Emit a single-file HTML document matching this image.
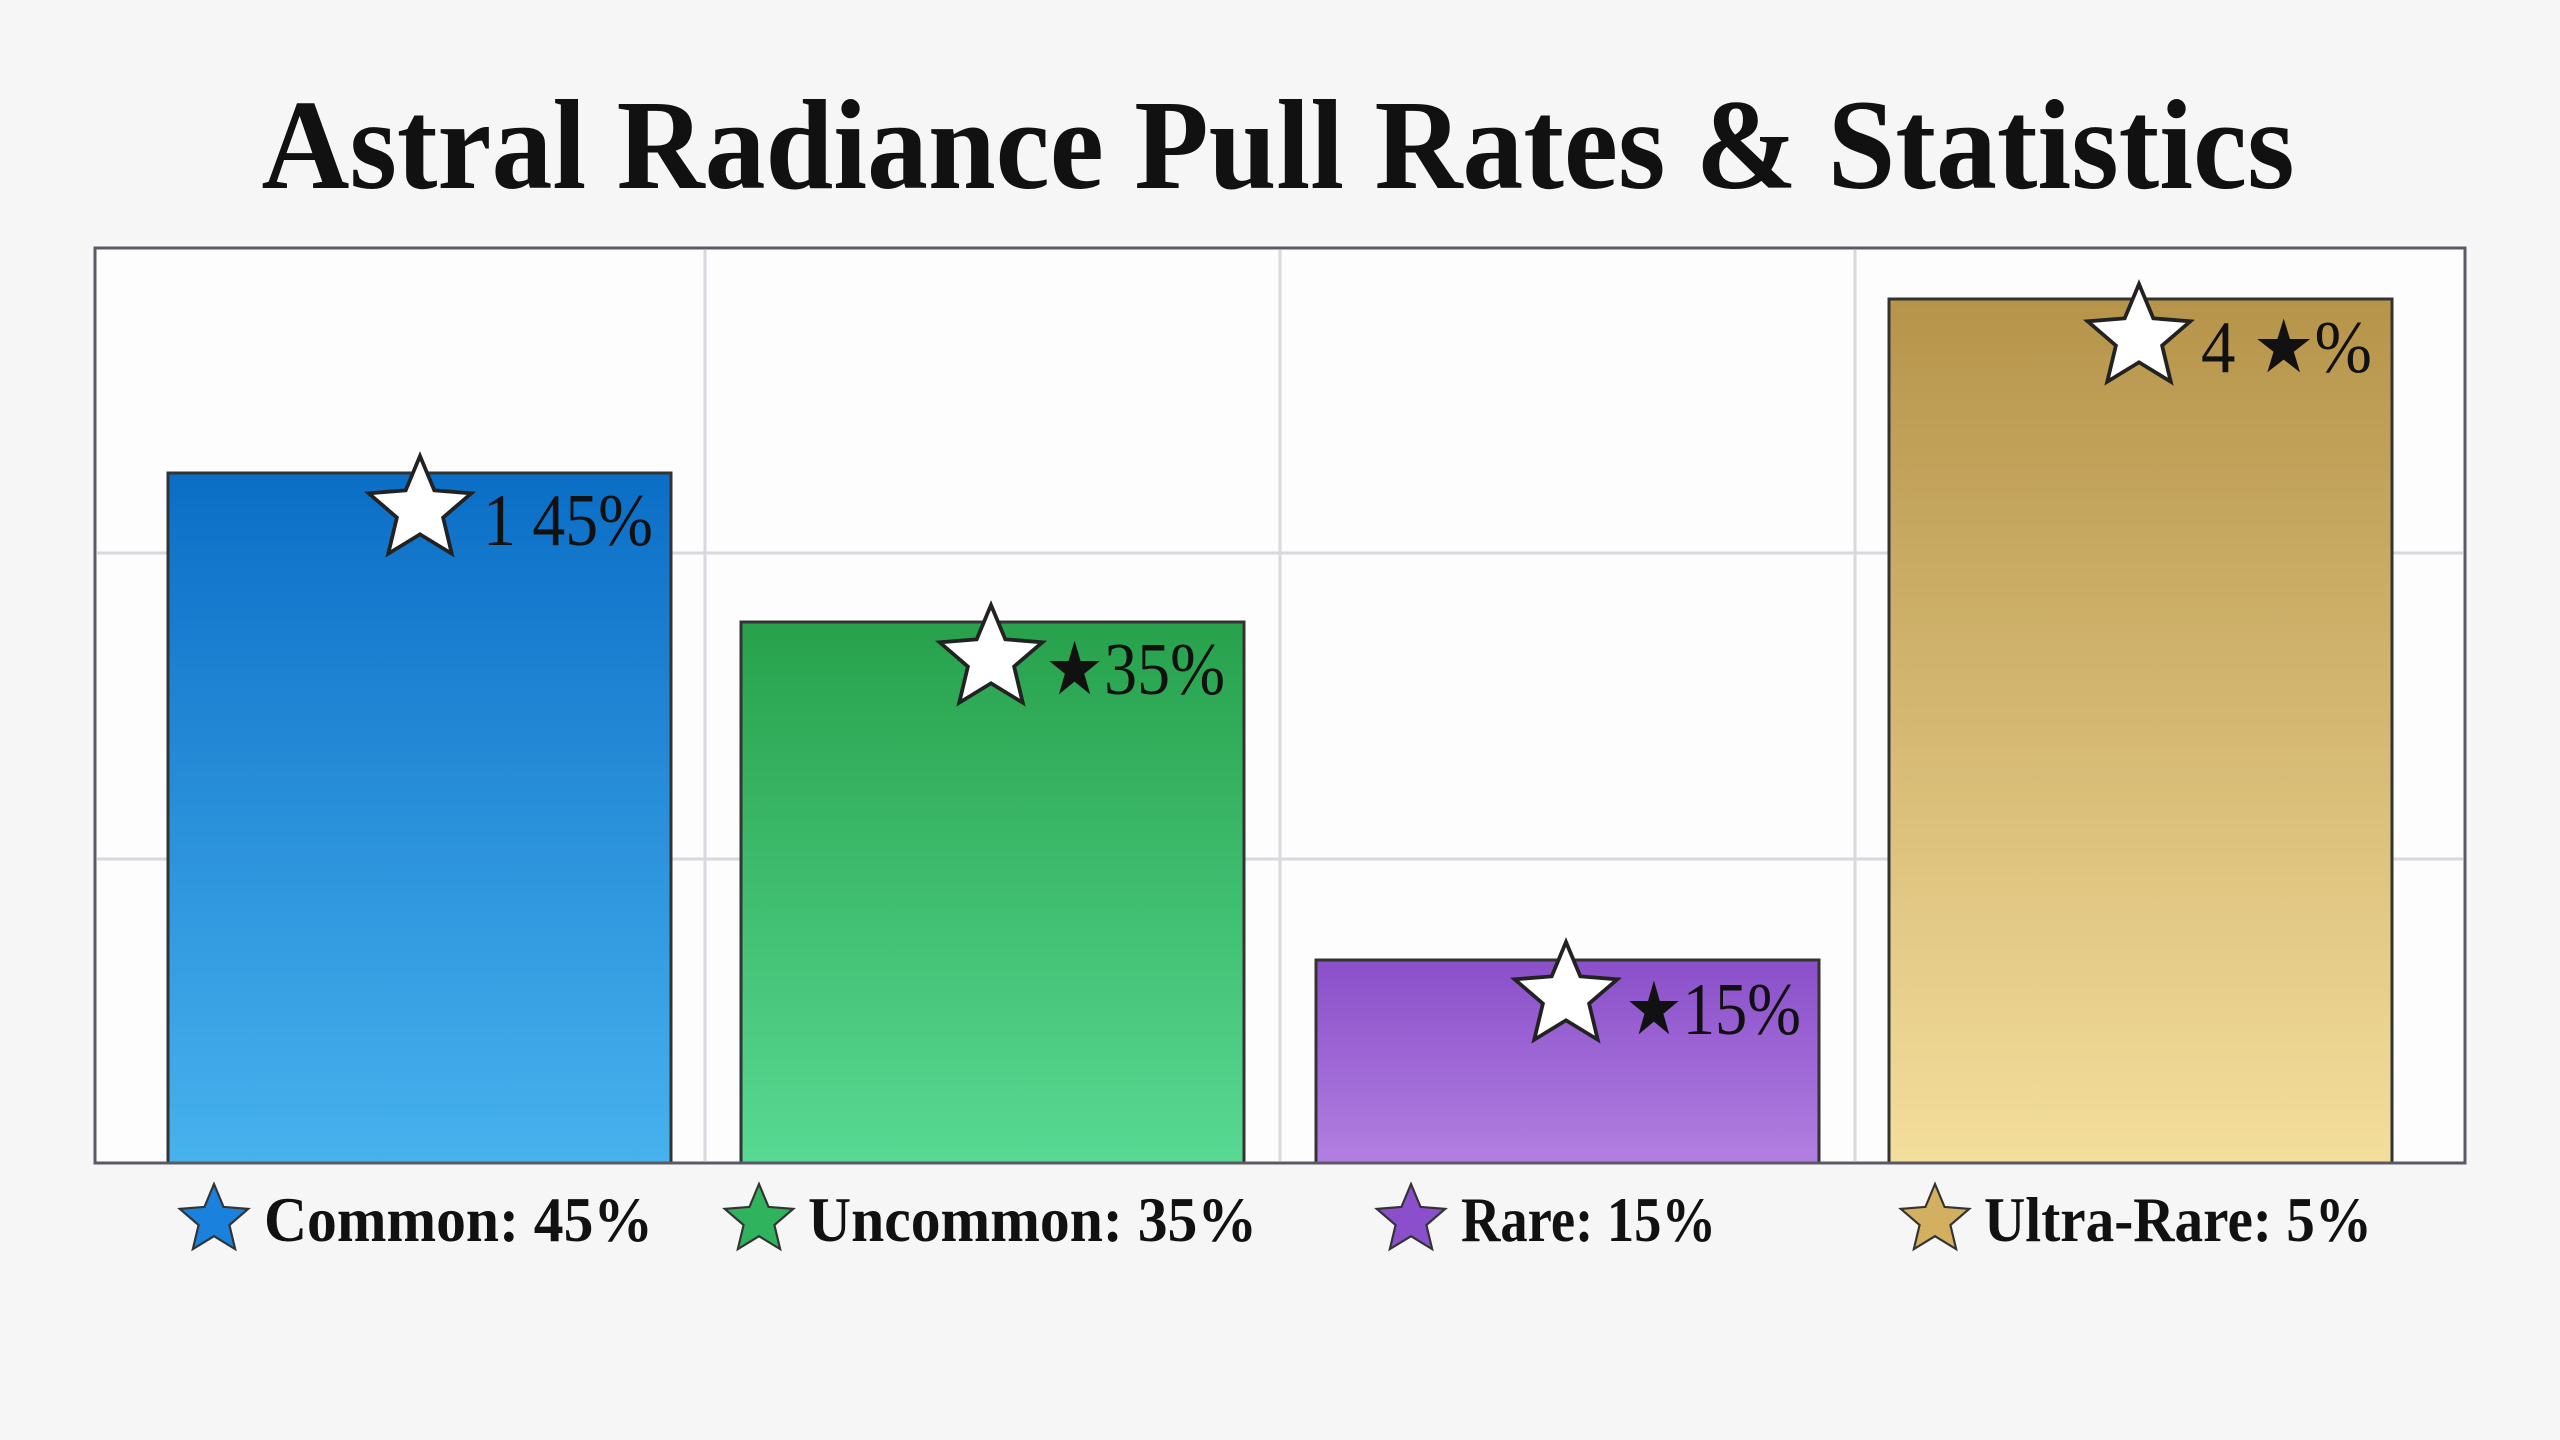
<!DOCTYPE html>
<html><head><meta charset="utf-8"><style>
html,body{margin:0;padding:0;background:#f6f6f6;}
svg{display:block}
</style></head><body>
<svg width="2560" height="1440" viewBox="0 0 2560 1440" xmlns="http://www.w3.org/2000/svg">
<defs>
<linearGradient id="gb" x1="0" y1="0" x2="0" y2="1"><stop offset="0" stop-color="#0b6ec6"/><stop offset="1" stop-color="#47b2ee"/></linearGradient>
<linearGradient id="gg" x1="0" y1="0" x2="0" y2="1"><stop offset="0" stop-color="#27a14b"/><stop offset="1" stop-color="#58d993"/></linearGradient>
<linearGradient id="gp" x1="0" y1="0" x2="0" y2="1"><stop offset="0" stop-color="#8a4fc9"/><stop offset="1" stop-color="#b27fe1"/></linearGradient>
<linearGradient id="gy" x1="0" y1="0" x2="0" y2="1"><stop offset="0" stop-color="#b6944a"/><stop offset="1" stop-color="#f4de9c"/></linearGradient>
<polygon id="st" points="0,-1 0.265,-0.364 0.951,-0.309 0.428,0.139 0.588,0.809 0,0.45 -0.588,0.809 -0.428,0.139 -0.951,-0.309 -0.265,-0.364"/>
</defs>
<rect width="2560" height="1440" fill="#f6f6f6"/>
<text x="1278" y="188" text-anchor="middle" font-family="Liberation Serif, serif" font-weight="bold" font-size="128" textLength="2033" lengthAdjust="spacingAndGlyphs" fill="#111">Astral Radiance Pull Rates &amp; Statistics</text>
<rect x="95" y="248" width="2370" height="915" fill="#fdfdfd" stroke="#5a5a66" stroke-width="3"/>
<g stroke="#d8d8de" stroke-width="3">
<line x1="705" y1="250" x2="705" y2="1161"/><line x1="1280" y1="250" x2="1280" y2="1161"/><line x1="1855" y1="250" x2="1855" y2="1161"/>
<line x1="97" y1="553" x2="2463" y2="553"/><line x1="97" y1="859" x2="2463" y2="859"/>
</g>
<g stroke="#333" stroke-width="3">
<rect x="168" y="473" width="503" height="690" fill="url(#gb)"/>
<rect x="741" y="622" width="503" height="541" fill="url(#gg)"/>
<rect x="1316" y="960" width="503" height="203" fill="url(#gp)"/>
<rect x="1889" y="299" width="503" height="864" fill="url(#gy)"/>
</g>
<line x1="95" y1="1163" x2="2465" y2="1163" stroke="#5a5a66" stroke-width="3"/>
<g fill="#fff" stroke="#222" stroke-width="0.07">
<use href="#st" transform="translate(420,510) scale(54)"/>
<use href="#st" transform="translate(991,659) scale(54)"/>
<use href="#st" transform="translate(1566,996) scale(54)"/>
<use href="#st" transform="translate(2139,338) scale(54)"/>
</g>
<g font-family="Liberation Serif, 'DejaVu Sans', serif" font-size="74" fill="#111">
<text x="483" y="545" textLength="170" lengthAdjust="spacingAndGlyphs">1 45%</text>
<text x="1045" y="694" textLength="180" lengthAdjust="spacingAndGlyphs">★35%</text>
<text x="1625" y="1034" textLength="176" lengthAdjust="spacingAndGlyphs">★15%</text>
<text x="2201" y="372" textLength="171" lengthAdjust="spacingAndGlyphs">4 ★%</text>
</g>
<g stroke="#333" stroke-width="0.06">
<use href="#st" transform="translate(214,1220) scale(36)" fill="#1a82dc"/>
<use href="#st" transform="translate(759,1220) scale(36)" fill="#2fb35c"/>
<use href="#st" transform="translate(1411,1220) scale(36)" fill="#8b4fcb"/>
<use href="#st" transform="translate(1935,1220) scale(36)" fill="#d2b060"/>
</g>
<g font-family="Liberation Serif, serif" font-weight="bold" font-size="64" fill="#111">
<text x="264" y="1241" textLength="389" lengthAdjust="spacingAndGlyphs">Common: 45%</text>
<text x="808" y="1241" textLength="449" lengthAdjust="spacingAndGlyphs">Uncommon: 35%</text>
<text x="1461" y="1241" textLength="255" lengthAdjust="spacingAndGlyphs">Rare: 15%</text>
<text x="1984" y="1241" textLength="388" lengthAdjust="spacingAndGlyphs">Ultra-Rare: 5%</text>
</g>
</svg>
</body></html>
